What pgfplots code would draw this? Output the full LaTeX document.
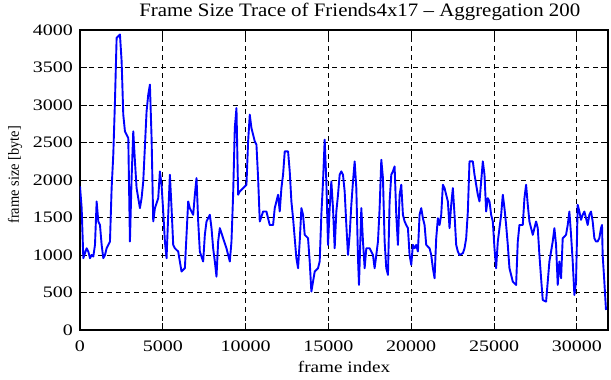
\documentclass[border=0pt]{standalone}
\usepackage{pgfplots}
\pgfplotsset{compat=1.18}
\usepackage{fontspec}
\setmainfont{Liberation Serif}
\newfontfamily\tickfont{Liberation Serif}[FakeStretch=1.25]
\newfontfamily\titlefont{Liberation Serif}[FakeStretch=1.1]
\newfontfamily\xlabfont{Liberation Serif}[FakeStretch=1.2]
\newfontfamily\ylabfont{Liberation Serif}[FakeStretch=0.93]
\begin{document}
\begin{tikzpicture}
\path[use as bounding box] (-80pt,-50pt) rectangle (531pt,330pt);
\begin{axis}[
  at={(0,0)}, anchor=south west,
  scale only axis, width=528pt, height=300pt,
  xmin=0, xmax=31880, ymin=0, ymax=4000,
  xtick={0,5000,...,30000}, ytick={0,500,...,4000},
  scaled ticks=false,
  /pgf/number format/.cd, 1000 sep={}, assume math mode=true, /pgfplots/.cd,
  tick align=inside, major tick length=7pt,
  tick style={black, line width=0.8pt},
  axis line style={line width=1.3pt},
  grid=major,
  major grid style={black, line width=0.8pt, dash pattern=on 5pt off 4pt},
  tick label style={font=\tickfont\fontsize{16}{16}\selectfont},
  xticklabel style={yshift=-7pt},
  yticklabel style={xshift=-3.5pt},
  every axis title shift=0pt,
  title={Frame Size Trace of Friends4x17 – Aggregation 200},
  title style={font=\titlefont\fontsize{19}{19}\selectfont, at={(axis description cs:0.53,1.0443)}, anchor=base, yshift=0pt, inner sep=0pt},
  xlabel={frame index},
  xlabel style={font=\xlabfont\fontsize{16}{16}\selectfont, at={(axis description cs:0.5,-0.1433)}, anchor=base, inner sep=0pt},
  ylabel={frame size [byte]},
  ylabel style={font=\ylabfont\fontsize{15.5}{15.5}\selectfont, at={(axis description cs:-0.1231,0.517)}, anchor=center, inner sep=0pt},
]
\addplot[blue, line width=1.9pt, line join=round] coordinates {
(0,1914)(100,1625)(201,957)(402,1090)(503,1046)(603,957)(704,1000)(804,980)(905,1135)(1005,1714)(1106,1447)(1206,1400)(1307,1135)(1407,957)(1508,1000)(1608,1090)(1709,1135)(1809,1180)(1910,1892)(2010,2337)(2111,3050)(2211,3895)(2412,3940)(2513,3584)(2613,2871)(2714,2649)(2915,2560)(3015,1180)(3116,2026)(3216,2649)(3317,2248)(3417,1892)(3618,1625)(3719,1758)(3819,1981)(4020,2916)(4121,3139)(4221,3272)(4322,2560)(4422,1447)(4523,1625)(4724,1758)(4824,2115)(4925,1937)(5025,1580)(5126,1180)(5226,957)(5327,1536)(5427,2070)(5528,1625)(5628,1135)(5729,1090)(5930,1046)(6131,779)(6332,824)(6432,1269)(6533,1714)(6633,1625)(6834,1536)(6935,1803)(7035,2026)(7136,1447)(7236,1046)(7437,913)(7538,1269)(7638,1447)(7839,1536)(7940,1358)(8040,1090)(8141,913)(8241,712)(8342,1180)(8442,1358)(8643,1224)(8844,1090)(9045,913)(9146,1180)(9246,1803)(9347,2693)(9447,2960)(9548,1803)(9648,1848)(9849,1892)(10050,1937)(10151,2515)(10251,2871)(10352,2693)(10553,2515)(10653,2471)(10754,2026)(10854,1447)(11055,1580)(11256,1580)(11457,1400)(11658,1400)(11759,1625)(11960,1803)(12060,1580)(12161,1892)(12261,2070)(12362,2382)(12563,2382)(12663,2115)(12764,1714)(12864,1491)(12965,1224)(13065,957)(13166,824)(13266,1180)(13367,1625)(13467,1536)(13568,1269)(13769,1224)(13869,913)(13970,512)(14070,645)(14171,779)(14372,824)(14472,913)(14573,1536)(14673,1981)(14774,2538)(14874,1981)(14975,1135)(15075,1625)(15176,1981)(15276,1625)(15377,1090)(15477,1580)(15578,1803)(15678,2070)(15779,2115)(15879,2070)
(15980,1848)(16081,1400)(16182,1000)(16282,1269)(16383,1670)(16483,1981)(16584,2248)(16684,1892)(16785,957)(16845,600)(16986,1625)(17086,1180)(17187,824)(17287,1090)(17488,1090)(17689,1000)(17790,824)(17890,1000)(17991,1180)(18091,1625)(18192,2270)(18292,2026)(18393,1180)(18493,824)(18594,735)(18694,1714)(18795,2070)(18895,2115)(18996,2181)(19096,1536)(19197,1135)(19297,1803)(19398,1937)(19498,1536)(19599,1447)(19699,1400)(19800,1358)(19900,1000)(20001,868)(20101,1135)(20202,1090)(20302,1135)(20403,1046)(20503,1536)(20604,1625)(20704,1491)(20805,1400)(20905,1135)(21106,1090)(21207,1000)(21307,824)(21408,690)(21508,1224)(21609,1491)(21709,1400)(21810,1536)(21910,1937)(22011,1892)(22111,1803)(22212,1714)(22312,1358)(22413,1670)(22513,1892)(22614,1536)(22714,1135)(22815,1046)(22915,1000)(23116,1024)(23217,1090)(23317,1224)(23418,1580)(23518,2248)(23719,2248)(23820,2070)(23920,1937)(24021,1803)(24121,1714)(24222,1981)(24322,2248)(24423,2070)(24523,1580)(24624,1758)(24724,1714)(24825,1536)(24925,1447)(25026,1090)(25126,824)(25227,1180)(25327,1358)(25428,1536)(25528,1803)(25629,1625)(25729,1400)(25830,1135)(25930,824)(26031,735)(26131,645)(26332,600)(26433,1180)(26533,1400)(26734,1400)(26835,1758)(26935,1937)(27036,1670)(27136,1447)(27337,1269)(27438,1358)(27538,1447)(27639,1358)(27739,1000)(27840,690)(27940,400)(28141,378)(28242,645)(28342,913)(28443,1046)(28543,1180)(28644,1358)(28744,1135)(28845,600)(28945,913)(29046,690)(29146,1224)(29247,1246)(29347,1269)(29448,1400)(29548,1580)(29649,1269)(29749,913)(29850,467)(29950,645)(30051,1670)(30151,1580)(30252,1469)(30352,1536)(30453,1580)(30553,1491)(30654,1400)(30754,1536)(30855,1580)(30955,1447)(31056,1224)(31156,1180)(31257,1180)(31357,1224)(31458,1358)(31518,1400)(31558,1000)(31659,645)(31759,267)
};
\end{axis}
\end{tikzpicture}
\end{document}
